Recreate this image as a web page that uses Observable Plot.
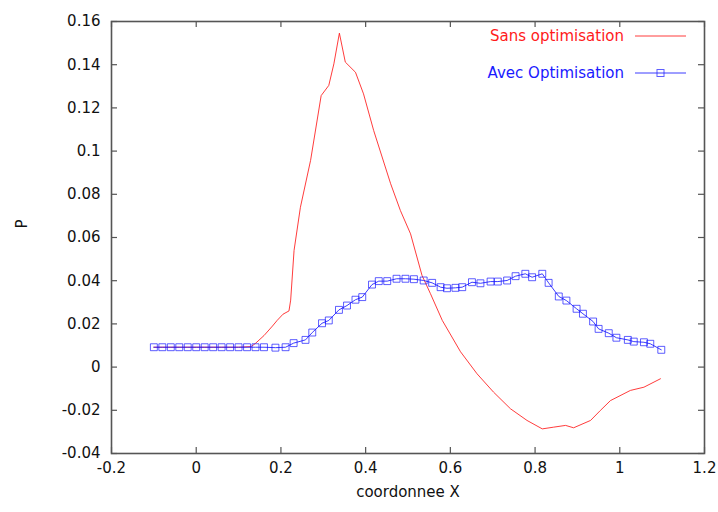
<!DOCTYPE html>
<html><head><meta charset="utf-8">
<script src="https://cdn.jsdelivr.net/npm/d3@7"></script>
<script src="https://cdn.jsdelivr.net/npm/@observablehq/plot@0.6"></script>
<style>body{margin:0;background:#fff;} #chart{width:718px;height:512px;}</style>
</head><body><div id="chart"></div>
<script>
const seriesNames = ["Sans optimisation", "Avec Optimisation"];
const xLabel = "coordonnee X";
const yLabel = "P";
const xTicks = [-0.2, 0, 0.2, 0.4, 0.6, 0.8, 1, 1.2];
const yTicks = [-0.04, -0.02, 0, 0.02, 0.04, 0.06, 0.08, 0.1, 0.12, 0.14, 0.16];

const redX = [-0.1, 0.0, 0.1, 0.13, 0.14, 0.16, 0.18, 0.191, 0.205, 0.219, 0.223, 0.231, 0.246, 0.27, 0.295, 0.313, 0.325, 0.338, 0.352, 0.376, 0.395, 0.419, 0.459, 0.482, 0.506, 0.533, 0.553, 0.581, 0.624, 0.663, 0.702, 0.742, 0.781, 0.817, 0.844, 0.872, 0.891, 0.931, 0.954, 0.978, 1.025, 1.057, 1.096];
const redY = [0.0092, 0.0092, 0.0092, 0.0095, 0.011, 0.0146, 0.019, 0.0216, 0.0245, 0.026, 0.031, 0.054, 0.074, 0.0957, 0.1257, 0.1304, 0.1404, 0.1546, 0.1412, 0.1365, 0.1265, 0.1095, 0.0849, 0.0725, 0.0617, 0.0425, 0.034, 0.0216, 0.0071, -0.0031, -0.0116, -0.0193, -0.0247, -0.0286, -0.0278, -0.027, -0.0281, -0.0247, -0.0201, -0.0155, -0.0108, -0.0093, -0.0054];

const blueX = [-0.1, -0.08, -0.06, -0.04, -0.02, 0, 0.02, 0.04, 0.06, 0.08, 0.1, 0.12, 0.14, 0.16, 0.187, 0.211, 0.230, 0.258, 0.274, 0.297, 0.313, 0.337, 0.356, 0.376, 0.392, 0.415, 0.431, 0.451, 0.473, 0.494, 0.514, 0.537, 0.557, 0.577, 0.592, 0.612, 0.628, 0.651, 0.671, 0.695, 0.712, 0.734, 0.754, 0.777, 0.793, 0.817, 0.832, 0.856, 0.874, 0.898, 0.913, 0.937, 0.950, 0.974, 0.992, 1.019, 1.033, 1.057, 1.072, 1.098];
const blueY = [0.0092, 0.0092, 0.0092, 0.0092, 0.0092, 0.0092, 0.0092, 0.0092, 0.0092, 0.0092, 0.0092, 0.0092, 0.0092, 0.0092, 0.009, 0.0092, 0.0111, 0.0126, 0.016, 0.0203, 0.0216, 0.0265, 0.0285, 0.0312, 0.0324, 0.0382, 0.0398, 0.0398, 0.0409, 0.0409, 0.0407, 0.0401, 0.039, 0.037, 0.0365, 0.0367, 0.037, 0.0393, 0.0388, 0.0396, 0.0396, 0.0401, 0.0421, 0.0432, 0.0416, 0.0432, 0.039, 0.0327, 0.0308, 0.027, 0.0247, 0.0211, 0.0177, 0.0157, 0.0136, 0.0126, 0.0118, 0.0115, 0.0108, 0.008];

const red = redX.map((x, i) => ({x, y: redY[i]}));
const blue = blueX.map((x, i) => ({x, y: blueY[i]}));

const W = 718, H = 512, mL = 111, mR = 14, mT = 21, mB = 59;
const fw = W - mL - mR, fh = H - mT - mB;
const fmt = d => String(d);
const redColor = "#ff1a1a", blueColor = "#1a1aff";
const tickLen = 6;

const chart = Plot.plot({
  width: W, height: H,
  marginLeft: mL, marginRight: mR, marginTop: mT, marginBottom: mB,
  style: {fontFamily: "'DejaVu Sans', sans-serif", fontSize: "15px", color: "#111", background: "#fff"},
  x: {domain: [-0.2, 1.2]},
  y: {domain: [-0.04, 0.16]},
  marks: [
    Plot.axisX({ticks: xTicks, anchor: "bottom", tickSize: 0, tickPadding: 9, tickFormat: fmt, label: null, fontSize: 15}),
    Plot.axisY({ticks: yTicks, anchor: "left", tickSize: 0, tickPadding: 11, tickFormat: fmt, label: null, fontSize: 15}),
    Plot.tickX(xTicks, {x: d => d, insetTop: fh - tickLen, stroke: "#555", strokeWidth: 1.2}),
    Plot.tickX(xTicks, {x: d => d, insetBottom: fh - tickLen, stroke: "#555", strokeWidth: 1.2}),
    Plot.tickY(yTicks, {y: d => d, insetRight: fw - tickLen, stroke: "#555", strokeWidth: 1.2}),
    Plot.tickY(yTicks, {y: d => d, insetLeft: fw - tickLen, stroke: "#555", strokeWidth: 1.2}),
    Plot.line(red, {x: "x", y: "y", stroke: redColor, strokeWidth: 1, strokeOpacity: 0.85}),
    Plot.line(blue, {x: "x", y: "y", stroke: blueColor, strokeWidth: 1, strokeOpacity: 0.85}),
    Plot.dot(blue, {x: "x", y: "y", symbol: "square", r: 3.9, stroke: blueColor, strokeWidth: 1, fill: "none", strokeOpacity: 0.7}),
    Plot.frame({stroke: "#555", strokeWidth: 1.6}),
    Plot.text([xLabel], {text: d => d, frameAnchor: "bottom", dy: 43, fontSize: 15, fill: "#111"}),
    Plot.text([yLabel], {text: d => d, frameAnchor: "left", dx: -89, dy: -9, rotate: -90, fontSize: 15, fill: "#111"})
  ]
});
document.getElementById("chart").appendChild(chart);

// legend (inside the plot frame, top-right, gnuplot style)
const svg = d3.select(chart);
const lg = svg.append("g").attr("font-family", "'DejaVu Sans', sans-serif").attr("font-size", 15);
const entries = [
  {name: seriesNames[0], color: redColor, y: 36, marker: false},
  {name: seriesNames[1], color: blueColor, y: 73, marker: true}
];
for (const e of entries) {
  lg.append("text").attr("x", 624).attr("y", e.y).attr("dy", "0.35em")
    .attr("text-anchor", "end").attr("fill", e.color).text(e.name);
  lg.append("line").attr("x1", 635).attr("x2", 686).attr("y1", e.y).attr("y2", e.y)
    .attr("stroke", e.color).attr("stroke-width", 1).attr("stroke-opacity", 0.85);
  if (e.marker) {
    lg.append("rect").attr("x", 657).attr("y", e.y - 3.5).attr("width", 7).attr("height", 7)
      .attr("fill", "none").attr("stroke", e.color).attr("stroke-opacity", 0.7);
  }
}
</script>
</body></html>
